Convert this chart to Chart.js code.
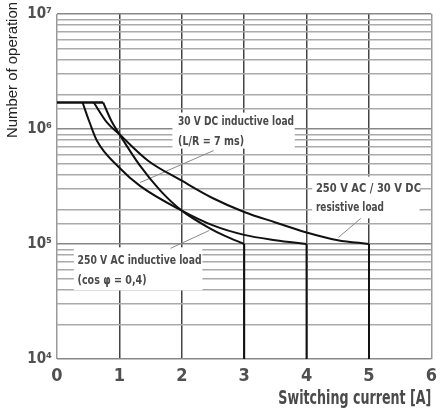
<!DOCTYPE html>
<html><head><meta charset="utf-8">
<script src="https://cdn.jsdelivr.net/npm/chart.js@4.4.1/dist/chart.umd.min.js"></script>
<style>html,body{margin:0;padding:0;background:#fff}#w{width:444px;height:412px;position:relative}</style>
</head><body><div id="w"><canvas id="c"></canvas></div>
<script>
// ---- data ----
const xTicks = [0, 1, 2, 3, 4, 5, 6];
const yMajor = [1e4, 1e5, 1e6, 1e7];
const yMajorLabels = ['10⁴', '10⁵', '10⁶', '10⁷'];
const xTitle = 'Switching current [A]';
const yTitle = 'Number of operation';

const flatX = [0, 0.74];
const flatY = [1.7e6, 1.7e6];

const dcX = [0.41, 0.52, 0.64, 1.0, 1.33, 2.0, 2.5, 3.0, 3.5, 4.0];
const dcY = [1.7e6, 1.15e6, 7.9e5, 4.6e5, 3.2e5, 1.95e5, 1.45e5, 1.2e5, 1.08e5, 1.0e5];

const acX = [0.74, 0.87, 1.0, 1.33, 1.66, 2.0, 2.45, 2.7, 3.0];
const acY = [1.7e6, 1.18e6, 9.0e5, 4.8e5, 2.9e5, 1.95e5, 1.37e5, 1.17e5, 1.0e5];

const resX = [0.59, 0.8, 1.0, 1.46, 2.0, 2.5, 3.0, 3.5, 4.0, 4.5, 5.0];
const resY = [1.7e6, 1.14e6, 9.0e5, 5.3e5, 3.55e5, 2.5e5, 1.9e5, 1.54e5, 1.26e5, 1.08e5, 1.0e5];

const dropX = [3, 4, 5];
const dropY = [1e5, 1e4];

const labelDC = ['30 V DC inductive load', '(L/R = 7 ms)'];
const labelAC = ['250 V AC inductive load', '(cos φ = 0,4)'];
const labelRes = ['250 V AC / 30 V DC', 'resistive load'];

// ---- build ----
const zip = (xs, ys) => xs.map((x, i) => ({x, y: ys[i]}));
const lineStyle = {showLine: true, borderColor: '#111', borderWidth: 2, pointRadius: 0, fill: false};
const datasets = [
  Object.assign({data: zip(flatX, flatY), tension: 0}, lineStyle, {borderWidth: 2.5}),
  Object.assign({data: zip(dcX, dcY), cubicInterpolationMode: 'monotone'}, lineStyle),
  Object.assign({data: zip(acX, acY), cubicInterpolationMode: 'monotone'}, lineStyle),
  Object.assign({data: zip(resX, resY), cubicInterpolationMode: 'monotone'}, lineStyle),
];
dropX.forEach(x => datasets.push(Object.assign({data: zip([x, x], dropY), tension: 0}, lineStyle)));

const CONDENSED = "'Liberation Sans Narrow','DejaVu Sans Condensed',sans-serif";
const TEXT = '#4a4a4a';

const notes = [
  {box: [1.85, 3.81, 1.39e6, 6.75e5], lead: [[2.51, 6.49e5], [1.33, 3.42e5]],
   lines: [{t: labelDC[0], x: 1.94, y: 1.16e6, w: 116}, {t: labelDC[1], x: 1.94, y: 7.77e5, w: 66}]},
  {box: [0.27, 2.33, 9.36e4, 3.96e4], lead: [[1.82, 9.17e4], [2.44, 1.31e5]],
   lines: [{t: labelAC[0], x: 0.33, y: 7.22e4, w: 124}, {t: labelAC[1], x: 0.33, y: 4.84e4, w: 69}]},
  {box: [4.09, 5.81, 3.86e5, 1.67e5], lead: [[4.87, 1.67e5], [4.51, 1.14e5]],
   lines: [{t: labelRes[0], x: 4.15, y: 3.04e5, w: 105}, {t: labelRes[1], x: 4.15, y: 2.08e5, w: 68}]},
];

function fitText(ctx, t, x, y, w, font, align) {
  ctx.font = font;
  const m = ctx.measureText(t).width;
  const s = w / m;
  ctx.save();
  ctx.translate(align === 'right' ? x - w : x, y);
  ctx.scale(s, 1);
  ctx.textAlign = 'left';
  ctx.fillText(t, 0, 0);
  ctx.restore();
}

const notesPlugin = {
  id: 'notes',
  beforeDatasetsDraw(chart) {
    const {ctx, scales: {x, y}} = chart;
    ctx.save();
    notes.forEach(n => {
      const x0 = x.getPixelForValue(n.box[0]), x1 = x.getPixelForValue(n.box[1]);
      const y0 = y.getPixelForValue(n.box[2]), y1 = y.getPixelForValue(n.box[3]);
      ctx.fillStyle = '#fff';
      ctx.fillRect(x0, y0, x1 - x0, y1 - y0);
      ctx.strokeStyle = '#888';
      ctx.lineWidth = 1;
      ctx.beginPath();
      ctx.moveTo(x.getPixelForValue(n.lead[0][0]), y.getPixelForValue(n.lead[0][1]));
      ctx.lineTo(x.getPixelForValue(n.lead[1][0]), y.getPixelForValue(n.lead[1][1]));
      ctx.stroke();
      ctx.fillStyle = TEXT;
      ctx.textBaseline = 'middle';
      n.lines.forEach(l => fitText(ctx, l.t, x.getPixelForValue(l.x), y.getPixelForValue(l.y), l.w, 'bold 13px ' + CONDENSED));
    });
    ctx.restore();
  },
  afterDraw(chart) {
    const {ctx, chartArea} = chart;
    ctx.save();
    ctx.fillStyle = TEXT;
    ctx.textBaseline = 'middle';
    fitText(ctx, xTitle, chartArea.right, 399, 153, 'bold 19px ' + CONDENSED, 'right');
    ctx.save();
    ctx.translate(13, 70);
    ctx.rotate(-Math.PI / 2);
    ctx.fillStyle = '#222';
    fitText(ctx, yTitle, -68, 0, 136, "14px 'Liberation Sans',Arial,sans-serif");
    ctx.restore();
    ctx.restore();
  }
};

new Chart(document.getElementById('c'), {
  type: 'scatter',
  data: {datasets},
  plugins: [notesPlugin],
  options: {
    responsive: true,
    maintainAspectRatio: false,
    animation: false,
    events: [],
    layout: {padding: {left: 0, right: 4, top: 13, bottom: 0}},
    plugins: {legend: {display: false}, tooltip: {enabled: false}},
    scales: {
      x: {
        type: 'linear', min: 0, max: 6,
        afterBuildTicks: s => { s.ticks = xTicks.map(v => ({value: v})); },
        afterFit: s => { s.height = 53; },
        border: {display: false},
        grid: {
          drawTicks: false,
          lineWidth: 1.5,
          color: c => (c.tick && (c.tick.value === 0 || c.tick.value === 6)) ? '#999' : '#444'
        },
        ticks: {padding: 7, color: '#505050', font: {family: CONDENSED, size: 18, weight: 'bold'}}
      },
      y: {
        type: 'logarithmic', min: 1e4, max: 1e7,
        afterFit: s => { s.width = 57; },
        border: {display: false},
        grid: {
          drawTicks: false,
          lineWidth: 1.5,
          color: c => (c.tick && yMajor.some(m => Math.abs(m - c.tick.value) / m < 1e-9)) ? '#888' : '#aaa'
        },
        ticks: {
          autoSkip: false, padding: 5, color: '#505050',
          font: {family: CONDENSED, size: 15, weight: 'bold'},
          callback: v => {
            const i = yMajor.findIndex(m => Math.abs(m - v) / m < 1e-9);
            return i >= 0 ? yMajorLabels[i] : '';
          }
        }
      }
    }
  }
});
</script>
</body></html>
